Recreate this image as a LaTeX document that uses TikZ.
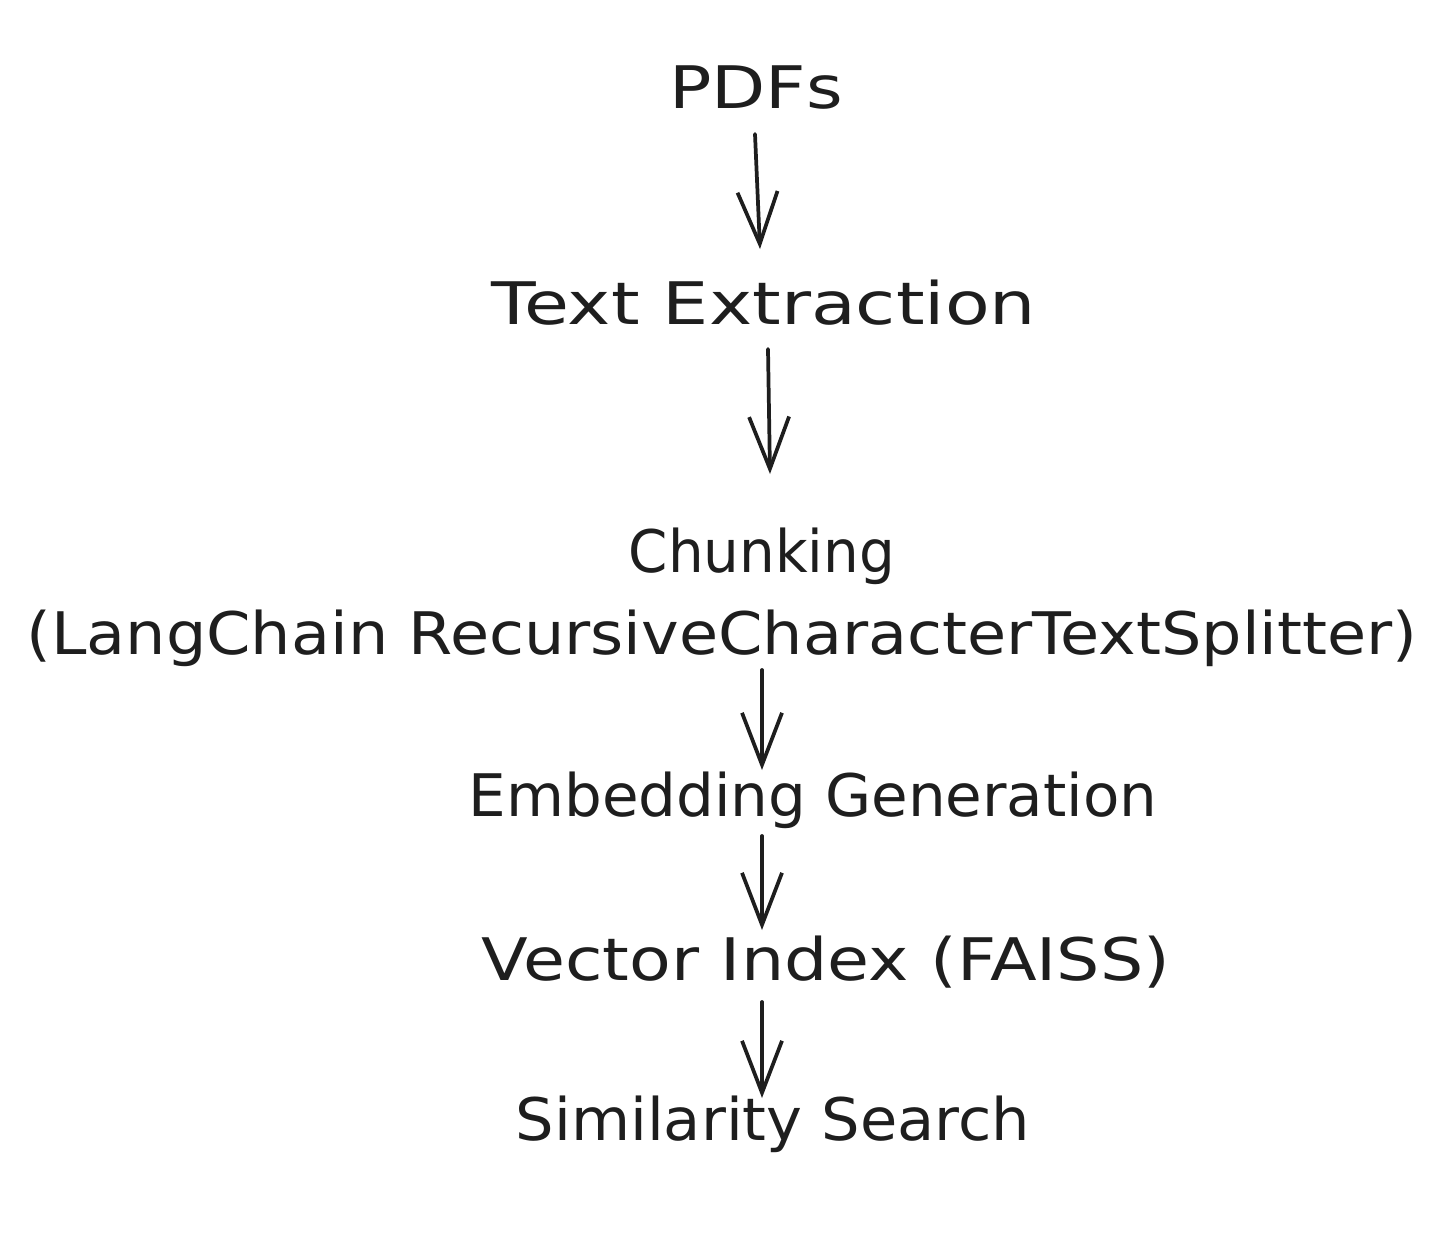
\documentclass[tikz,border=0pt]{standalone}
\usepackage{fontspec}
\setmainfont{DejaVu Sans}
\usetikzlibrary{arrows.meta}
\definecolor{ink}{HTML}{1E1E1E}
\newcommand\hsq[2]{\scalebox{#1}[1]{#2}}
\tikzset{
  lbl/.style={inner sep=0pt, text=ink, font=\fontsize{44pt}{52pt}\selectfont},
  flow/.style={draw=ink, line width=2.8pt, line cap=round,
    -{Straight Barb[length=39pt, width=30pt, line width=2.8pt]}}
}
\begin{document}
\begin{tikzpicture}[x=0.75pt, y=-0.75pt]
\useasboundingbox (0,0) rectangle (1446,1234);
\node[lbl] (pdfs) at (756,88) {\hsq{1.2}{PDFs}};
\node[lbl] (text) at (764,303) {\hsq{1.246}{Text Extraction}};
\node[lbl] (chunk1) at (762,556) {\hsq{0.96}{Chunking}};
\node[lbl] (chunk2) at (722,638) {\hsq{1.085}{(LangChain RecursiveCharacterTextSplitter)}};
\node[lbl] (embed) at (813,800) {\hsq{1.015}{Embedding Generation}};
\node[lbl] (vec) at (826,962) {\hsq{1.163}{Vector Index (FAISS)}};
\node[lbl] (sim) at (773,1124) {\hsq{1.034}{Similarity Search}};
\coordinate (a1s) at (755,134); \coordinate (a1e) at (760,249);
\coordinate (a2s) at (768,349); \coordinate (a2e) at (770,474);
\coordinate (a3s) at (762,670); \coordinate (a3e) at (762,770);
\coordinate (a4s) at (762,836); \coordinate (a4e) at (762,930);
\coordinate (a5s) at (762,1002); \coordinate (a5e) at (762,1098);
\draw[flow] (a1s) -- (a1e);
\draw[flow] (a2s) -- (a2e);
\draw[flow] (a3s) -- (a3e);
\draw[flow] (a4s) -- (a4e);
\draw[flow] (a5s) -- (a5e);
\end{tikzpicture}
\end{document}
